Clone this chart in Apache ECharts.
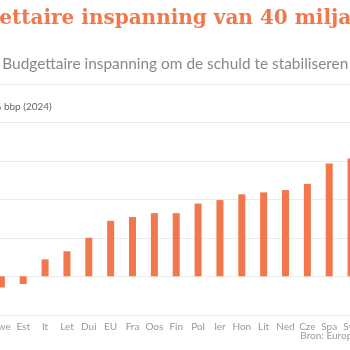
<!DOCTYPE html>
<html><head><meta charset="utf-8">
<script src="https://cdn.jsdelivr.net/npm/echarts@6/dist/echarts.min.js"></script>
<style>html,body{margin:0;padding:0;background:#fff;overflow:hidden}#c{width:372.6px;height:350px;margin-left:-11.3px}</style>
</head><body><div id="c"></div>
<script>
const categories = ['Zwe','Est','It','Let','Dui','EU','Fra','Oos','Fin','Pol','Ier','Hon','Lit','Ned','Cze','Spa','Svk'];
const values = [-0.29,-0.2,0.44,0.65,1.0,1.44,1.54,1.64,1.64,1.89,1.98,2.13,2.18,2.24,2.40,2.93,3.06];
const yTicks = [-1,0,1,2,3,4,5];
const titleText = 'ettaire inspanning van 40 miljard';
const subtitleText = 'Budgettaire inspanning om de schuld te stabiliseren';
const unitText = '% bbp (2024)';
const sourceText = 'Bron: Europese Commissie';

const off = 11.3;
const chart = echarts.init(document.getElementById('c'));
chart.setOption({
  animation: false,
  grid: {left: 0, right: 0, top: 83.8, bottom: 35.2, containLabel: false},
  xAxis: {
    type: 'category', data: categories,
    axisLine: {show: false}, axisTick: {show: false},
    axisLabel: {color: '#999', fontFamily: 'Lato', fontSize: 10, margin: 7, interval: 0}
  },
  yAxis: {
    type: 'value', min: yTicks[0], max: yTicks[yTicks.length-1], interval: 1,
    axisLabel: {show: false},
    splitLine: {lineStyle: {color: '#ececec', width: 1}}
  },
  series: [{
    type: 'bar', data: values, barWidth: 7,
    itemStyle: {color: '#f2784b'}
  }],
  graphic: [
    {type: 'text', left: off - 1, top: 9, style: {text: titleText, fill: '#f2784b', font: 'bold 20px "DejaVu Serif"'}},
    {type: 'text', left: off + 2, top: 57, style: {text: subtitleText, fill: '#888', font: '15.4px Lato'}},
    {type: 'text', left: off - 7, top: 102, style: {text: unitText, fill: '#666', font: '10px Lato'}},
    {type: 'text', left: off + 300, top: 331, style: {text: sourceText, fill: '#999', font: '10px Lato'}}
  ]
});
</script></body></html>
